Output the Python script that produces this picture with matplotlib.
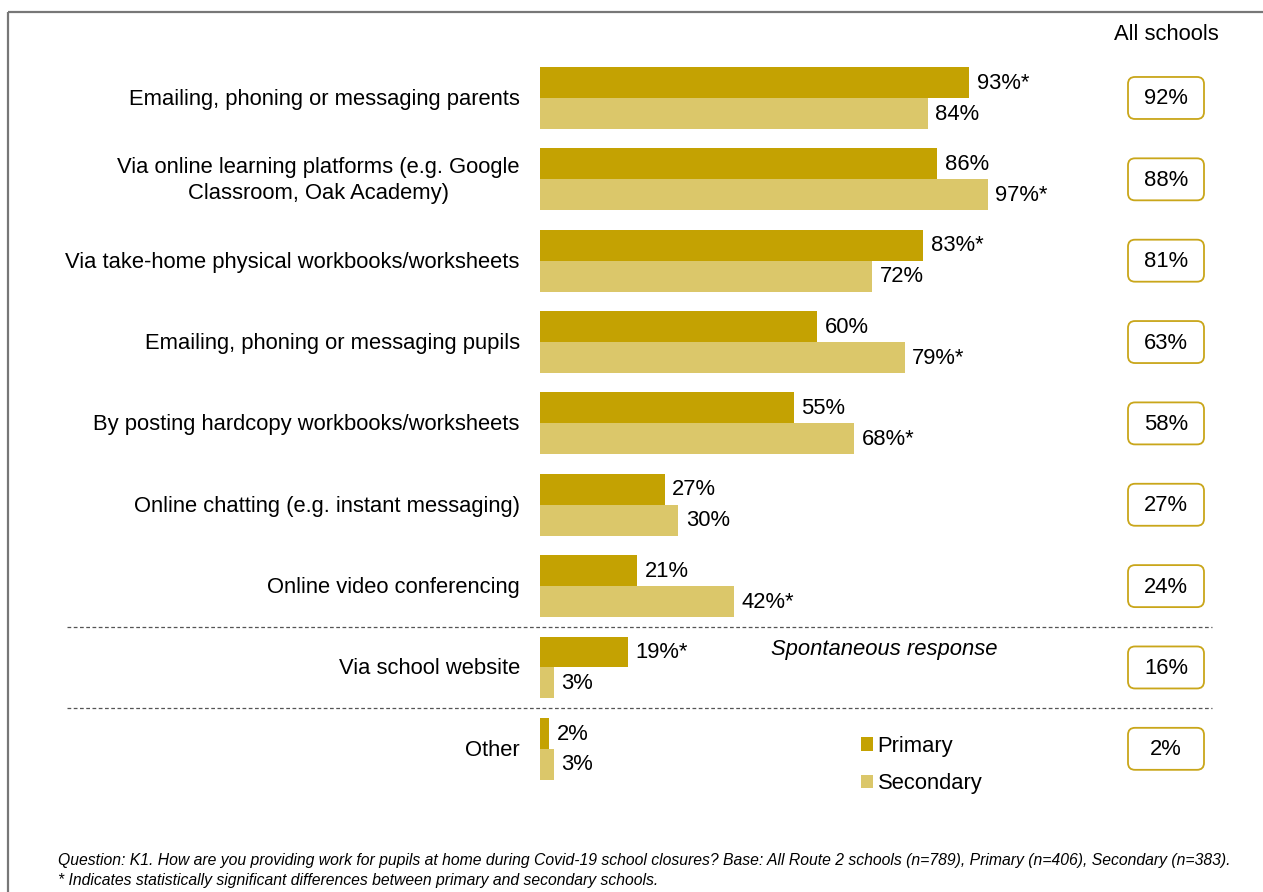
import numpy as np
import matplotlib
matplotlib.use("Agg")
import matplotlib.pyplot as plt
from matplotlib.patches import FancyBboxPatch

plt.rcParams['font.family'] = ['Liberation Sans', 'DejaVu Sans']

categories = [
    "Emailing, phoning or messaging parents",
    "Via online learning platforms (e.g. Google\nClassroom, Oak Academy)",
    "Via take-home physical workbooks/worksheets",
    "Emailing, phoning or messaging pupils",
    "By posting hardcopy workbooks/worksheets",
    "Online chatting (e.g. instant messaging)",
    "Online video conferencing",
    "Via school website",
    "Other",
]
primary = [93, 86, 83, 60, 55, 27, 21, 19, 2]
secondary = [84, 97, 72, 79, 68, 30, 42, 3, 3]
primary_sig = [True, False, True, False, False, False, False, True, False]
secondary_sig = [False, True, False, True, True, False, True, False, False]
all_schools = [92, 88, 81, 63, 58, 27, 24, 16, 2]

C_PRI = "#C4A202"
C_SEC = "#DBC76A"
C_BOX = "#C9A61A"
FS = 15.8

W, H = 1263, 892
fig = plt.figure(figsize=(W / 100, H / 100), dpi=100)

# overlay axes in pixel units for the frame, boxes and notes
ov = fig.add_axes([0, 0, 1, 1])
ov.set_xlim(0, W)
ov.set_ylim(H, 0)
ov.axis("off")

# bar axes: x in percent
ax = fig.add_axes([540 / W, 1 - 789.5 / H, 461.5 / W, (789.5 - 57.3) / H])
ax.set_xlim(0, 100)
ax.set_ylim(8.5, -0.5)
ax.axis("off")
ax.set_zorder(2)

n = len(categories)
y = np.arange(n)
bh = 0.38
b1 = ax.barh(y - bh / 2, primary, height=bh, color=C_PRI, label="Primary")
b2 = ax.barh(y + bh / 2, secondary, height=bh, color=C_SEC, label="Secondary")

for i in range(n):
    ax.annotate(f"{primary[i]}%" + ("*" if primary_sig[i] else ""),
                xy=(primary[i], i - bh / 2), xytext=(5.5, -0.5), textcoords="offset points",
                ha="left", va="center", fontsize=FS, annotation_clip=False)
    ax.annotate(f"{secondary[i]}%" + ("*" if secondary_sig[i] else ""),
                xy=(secondary[i], i + bh / 2), xytext=(5.5, -0.5), textcoords="offset points",
                ha="left", va="center", fontsize=FS, annotation_clip=False)
    ax.annotate(categories[i], xy=(0, i), xytext=(-14.5, -1), textcoords="offset points",
                ha="right", va="center", multialignment="center", fontsize=FS,
                linespacing=1.3, annotation_clip=False)

# dashed separators before the spontaneous responses
for yy in (6.5, 7.5):
    ypx = H - ax.transData.transform((0, yy))[1]
    ov.plot([67, 1212], [ypx, ypx], color="#555555", lw=0.9, ls=(0, (3, 2)))

# all-schools column
ov.text(1166, 34, "All schools", ha="center", va="center", fontsize=FS)
for i, v in enumerate(all_schools):
    yc = H - ax.transData.transform((0, i))[1]
    ov.add_patch(FancyBboxPatch((1128, yc - 21), 76, 42,
                                boxstyle="round,pad=0,rounding_size=7",
                                fc="white", ec=C_BOX, lw=1.3))
    ov.text(1166, yc + 1, f"{v}%", ha="center", va="center", fontsize=FS)

ov.text(884, 650, "Spontaneous response", ha="center", va="center",
        fontsize=FS, style="italic")

ax.legend(handles=[b1, b2], loc="center left",
          bbox_to_anchor=(861 / W, 1 - 765 / H), bbox_transform=fig.transFigure,
          frameon=False, fontsize=FS, handlelength=0.55, handleheight=0.55,
          handletextpad=0.2, labelspacing=0.75, borderpad=0, borderaxespad=0)

# outer frame (left and top edges only)
ov.plot([8, 8], [12, H], color="#777777", lw=1.6, solid_capstyle="butt")
ov.plot([8, W], [12, 12], color="#777777", lw=1.6, solid_capstyle="butt")

ov.text(58, 861, "Question: K1. How are you providing work for pupils at home during "
        "Covid-19 school closures? Base: All Route 2 schools (n=789), Primary (n=406), "
        "Secondary (n=383).", ha="left", va="center", fontsize=11.3, style="italic")
ov.text(58, 880, "* Indicates statistically significant differences between primary "
        "and secondary schools.", ha="left", va="center", fontsize=11.3, style="italic")

fig.savefig("out.png", dpi=100)
